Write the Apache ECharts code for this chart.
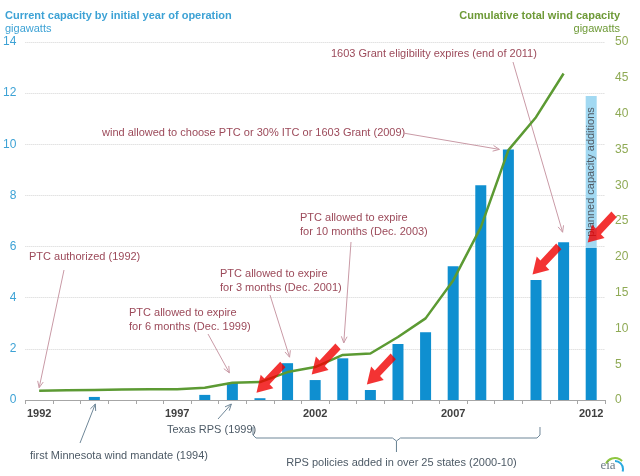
<!DOCTYPE html>
<html>
<head>
<meta charset="utf-8">
<title>Wind capacity and policy milestones</title>
<script src="https://cdn.jsdelivr.net/npm/echarts@6/dist/echarts.min.js"></script>
<style>
  html, body { margin: 0; padding: 0; background: #fff; }
  #chart { width: 640px; height: 476px; }
</style>
</head>
<body>
<div id="chart"></div>
<script>
const years = ["1992", "1993", "1994", "1995", "1996", "1997", "1998", "1999", "2000", "2001", "2002",
  "2003", "2004", "2005", "2006", "2007", "2008", "2009", "2010", "2011", "2012"];
// GW added by initial year of operation (left axis)
const annualCapacity = [0, 0, 0.12, 0, 0, 0, 0.2, 0.67, 0.07, 1.44, 0.78,
  1.63, 0.39, 2.19, 2.65, 5.23, 8.4, 9.8, 4.69, 6.17, 5.94];
// light blue box on top of 2012
const plannedCapacity = [null, null, null, null, null, null, null, null, null, null, null,
  null, null, null, null, null, null, null, null, null, 5.95];
// cumulative GW (right axis), no value for 2012
const cumulativeCapacity = [1.3, 1.35, 1.4, 1.45, 1.5, 1.5, 1.7, 2.4, 2.5, 3.9, 4.6,
  6.3, 6.5, 8.8, 11.4, 16.7, 24.1, 34.9, 39.5, 45.6, null];
const leftTicks = { min: 0, max: 14, interval: 2 };
const rightTicks = { min: 0, max: 50, interval: 5 };
const redArrowYears = ["2000", "2002", "2004", "2010", "2012"];

const FONT = "'Liberation Sans', Arial, sans-serif";
const NOTE = "#9C4A5A";
const NOTE_LINE = "#C99AA6";
const SLATE = "#4D5A66";
const SLATE_LINE = "#6F8798";

// fat pointer, already tilted 45deg down-left (tip at bottom-left of its box)
const redArrowPath = "path://M28.28,-42.43L42.43,-28.28L0,14.14L9.9,24.04L-35.36,35.36L-24.04,-9.9L-14.14,0Z";

const chart = echarts.init(document.getElementById("chart"), null, { renderer: "canvas" });

chart.setOption({
  animation: false,
  textStyle: { fontFamily: FONT },
  grid: { left: 23, right: 35, top: 42, bottom: 76, containLabel: false },
  xAxis: {
    type: "category",
    data: years,
    boundaryGap: true,
    axisLine: { lineStyle: { color: "#A6A6A6", width: 1 } },
    axisTick: { show: true, interval: 0, length: 4, lineStyle: { color: "#A6A6A6" } },
    axisLabel: { interval: 4, margin: 8, color: "#404040", fontSize: 11, fontWeight: "bold" }
  },
  yAxis: [
    {
      type: "value",
      ...leftTicks,
      axisLine: { show: false },
      axisTick: { show: false },
      axisLabel: { color: "#3DA2D5", fontSize: 12, margin: 9 },
      splitLine: { lineStyle: { color: "#D4D4D4", type: "dotted", width: 1 } }
    },
    {
      type: "value",
      position: "right",
      ...rightTicks,
      axisLine: { show: false },
      axisTick: { show: false },
      axisLabel: { color: "#8FAA55", fontSize: 12, margin: 10 },
      splitLine: { show: false }
    }
  ],
  series: [
    {
      name: "capacity",
      type: "bar",
      stack: "cap",
      data: annualCapacity,
      barWidth: 11,
      itemStyle: { color: "#0F8FD0" },
      z: 2
    },
    {
      name: "planned",
      type: "bar",
      stack: "cap",
      data: plannedCapacity,
      barWidth: 11,
      itemStyle: { color: "#A2D9F2" },
      label: {
        show: true,
        position: "inside",
        rotate: 90,
        formatter: "planned capacity additions",
        color: "#505A64",
        fontSize: 11
      },
      z: 1
    },
    {
      name: "cumulative",
      type: "line",
      yAxisIndex: 1,
      data: cumulativeCapacity,
      showSymbol: false,
      lineStyle: { color: "#5C9A33", width: 2.5 },
      z: 3
    },
    {
      name: "flags",
      type: "scatter",
      data: redArrowYears.map((y) => [y, annualCapacity[years.indexOf(y)]]),
      symbol: redArrowPath,
      symbolSize: [29, 31],
      symbolOffset: [11, -21],
      itemStyle: { color: "#F00000" },
      z: 5
    }
  ]
});

function anchor(kind, year, dx, dy) {
  const i = years.indexOf(year);
  let p;
  if (kind === "line") {
    p = chart.convertToPixel({ seriesIndex: 2 }, [year, cumulativeCapacity[i]]);
  } else if (kind === "bar") {
    p = chart.convertToPixel({ seriesIndex: 0 }, [year, annualCapacity[i]]);
  } else {
    p = chart.convertToPixel({ seriesIndex: 0 }, [year, 0]);
  }
  return [p[0] + dx, p[1] + dy];
}

function arrow(from, to, color) {
  const ang = Math.atan2(to[1] - from[1], to[0] - from[0]);
  const head = 7;
  const spread = 0.42;
  const a = [to[0] - head * Math.cos(ang - spread), to[1] - head * Math.sin(ang - spread)];
  const b = [to[0] - head * Math.cos(ang + spread), to[1] - head * Math.sin(ang + spread)];
  return [
    { type: "line", shape: { x1: from[0], y1: from[1], x2: to[0], y2: to[1] }, style: { stroke: color, lineWidth: 1 } },
    { type: "polyline", shape: { points: [a, to, b] }, style: { stroke: color, lineWidth: 1, fill: null } }
  ];
}

function label(lines, x, y, color, align) {
  return lines.map((t, k) => ({
    type: "text",
    x: x,
    y: y + k * 14,
    style: { text: t, fill: color, fontSize: 11, fontFamily: FONT, align: align || "left", verticalAlign: "middle" }
  }));
}

const notes = [
  { lines: ["PTC authorized (1992)"], x: 29, y: 257, from: [64, 270], to: anchor("line", "1992", 0, -3) },
  { lines: ["PTC allowed to expire", "for 6 months (Dec. 1999)"], x: 129, y: 313, from: [208, 334], to: anchor("bar", "1999", -3, -10) },
  { lines: ["PTC allowed to expire", "for 3 months (Dec. 2001)"], x: 220, y: 274, from: [270, 295], to: anchor("bar", "2001", 2, -6) },
  { lines: ["PTC allowed to expire", "for 10 months (Dec. 2003)"], x: 300, y: 218, from: [351, 242], to: anchor("line", "2003", 1, -12) },
  { lines: ["wind allowed to choose PTC or 30% ITC or 1603 Grant (2009)"], x: 102, y: 133, from: [403, 133], to: anchor("bar", "2009", -9, 0) },
  { lines: ["1603 Grant eligibility expires (end of 2011)"], x: 331, y: 54, from: [513, 62], to: anchor("bar", "2011", -1, -10) }
];

const slateNotes = [
  { lines: ["first Minnesota wind mandate (1994)"], x: 30, y: 456, from: [80, 443], to: anchor("base", "1994", 1, 4) },
  { lines: ["Texas RPS (1999)"], x: 167, y: 430, from: [218, 419], to: anchor("base", "1999", -1, 4) }
];

const graphics = [];
notes.forEach((n) => {
  graphics.push(...label(n.lines, n.x, n.y, NOTE));
  graphics.push(...arrow(n.from, n.to, NOTE_LINE));
});
slateNotes.forEach((n) => {
  graphics.push(...label(n.lines, n.x, n.y, SLATE));
  graphics.push(...arrow(n.from, n.to, SLATE_LINE));
});

// brace under 2000-2010
const braceLeft = anchor("base", "2000", -7, 0)[0];
const braceRight = anchor("base", "2010", 4, 0)[0];
const braceMid = (braceLeft + braceRight) / 2;
graphics.push({
  type: "polyline",
  shape: {
    points: [
      [braceLeft, 427], [braceLeft, 435], [braceLeft + 3, 438], [braceMid - 4, 438], [braceMid, 441], [braceMid, 452],
      [braceMid, 441], [braceMid + 4, 438], [braceRight - 3, 438], [braceRight, 435], [braceRight, 427]
    ]
  },
  style: { stroke: SLATE_LINE, lineWidth: 1, fill: null }
});
graphics.push(...label(["RPS policies added in over 25 states (2000-10)"], braceMid + 5, 463, SLATE, "center"));

// axis titles
graphics.push({
  type: "text", x: 5, y: 16,
  style: { text: "Current capacity by initial year of operation", fill: "#3DA2D5", fontSize: 11, fontWeight: "bold", fontFamily: FONT, verticalAlign: "middle" }
});
graphics.push({
  type: "text", x: 5, y: 29,
  style: { text: "gigawatts", fill: "#3DA2D5", fontSize: 11, fontFamily: FONT, verticalAlign: "middle" }
});
graphics.push({
  type: "text", x: 620, y: 16,
  style: { text: "Cumulative total wind capacity", fill: "#6E9A37", fontSize: 11, fontWeight: "bold", fontFamily: FONT, align: "right", verticalAlign: "middle" }
});
graphics.push({
  type: "text", x: 620, y: 29,
  style: { text: "gigawatts", fill: "#6E9A37", fontSize: 11, fontFamily: FONT, align: "right", verticalAlign: "middle" }
});

// eia mark
graphics.push({
  type: "arc", shape: { cx: 615, cy: 468, r: 10, startAngle: Math.PI * 1.15, endAngle: Math.PI * 1.75 },
  style: { stroke: "#8DC63F", lineWidth: 2, fill: null }
});
graphics.push({
  type: "arc", shape: { cx: 615, cy: 469, r: 8, startAngle: Math.PI * 1.5, endAngle: Math.PI * 2.1 },
  style: { stroke: "#29A9E0", lineWidth: 2, fill: null }
});
graphics.push({
  type: "text", x: 608, y: 466,
  style: { text: "eia", fill: "#6D7B86", fontSize: 13, fontFamily: "'Liberation Serif', serif", align: "center", verticalAlign: "middle" }
});

chart.setOption({ graphic: graphics });

window.addEventListener("resize", () => chart.resize());
</script>
</body>
</html>
